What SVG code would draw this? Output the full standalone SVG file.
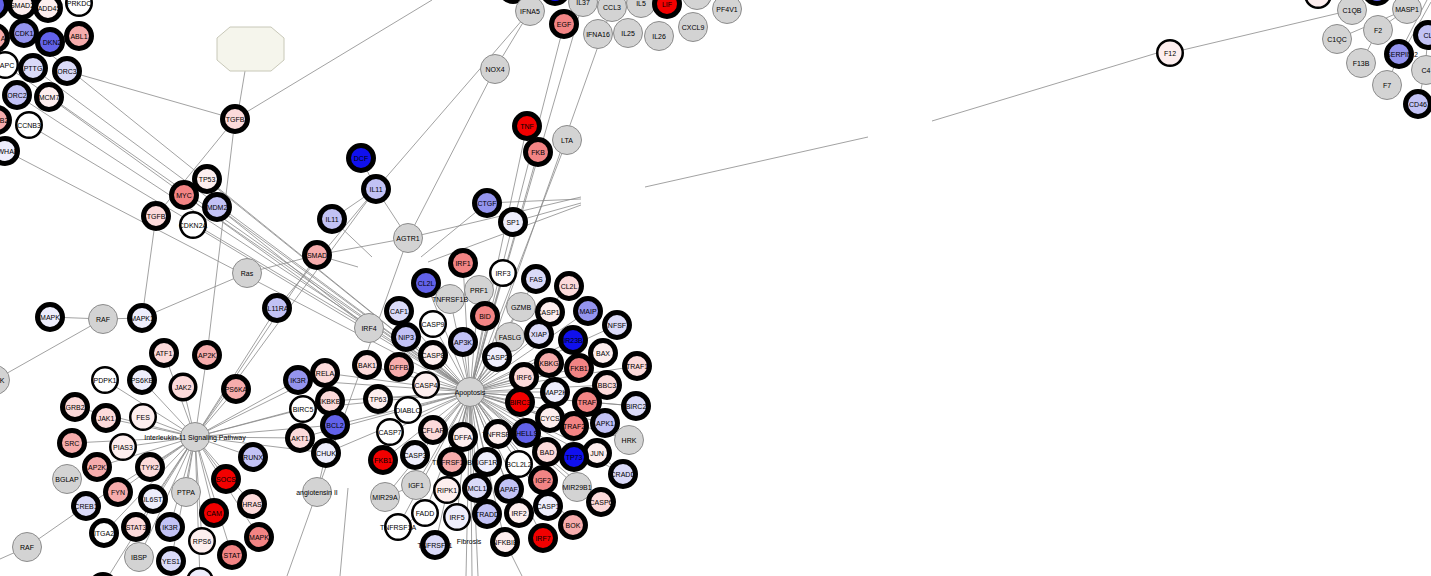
<svg xmlns="http://www.w3.org/2000/svg" width="1431" height="576" viewBox="0 0 1431 576">
<style>
.e{stroke:#8a8a8a;stroke-width:0.8;fill:none}
.g{fill:#d3d3d3;stroke:#8c8c8c;stroke-width:1}
.k{stroke:#000;stroke-width:5}
.m{stroke:#000;stroke-width:2.5}
.c0{fill:#ffffff}.b1{fill:#eeeefc}.b2{fill:#dadaf8}.b3{fill:#c2c2f5}.b4{fill:#9494ee}.b5{fill:#6262ea}.b6{fill:#1010ee}
.r1{fill:#fdeeee}.r2{fill:#fcdada}.r3{fill:#f6acac}.r4{fill:#f28484}.r5{fill:#f20000}
text{font-family:"Liberation Sans",Arial,sans-serif;font-size:7px;fill:#000;text-anchor:middle}
.oct{fill:#f5f5ec;stroke:#c8c8b8;stroke-width:1}
</style>
<rect width="1431" height="576" fill="#ffffff"/>
<g id="connectors">
<line class="e" x1="67" y1="71" x2="235" y2="119"/>
<line class="e" x1="5" y1="65" x2="470" y2="392"/>
<line class="e" x1="17" y1="95" x2="470" y2="392"/>
<line class="e" x1="49" y1="97" x2="369" y2="328"/>
<line class="e" x1="33" y1="68" x2="470" y2="392"/>
<line class="e" x1="29" y1="125" x2="369" y2="328"/>
<line class="e" x1="24" y1="33" x2="470" y2="392"/>
<line class="e" x1="6" y1="151" x2="470" y2="392"/>
<line class="e" x1="207" y1="179" x2="470" y2="392"/>
<line class="e" x1="217" y1="207" x2="369" y2="328"/>
<line class="e" x1="184" y1="195" x2="470" y2="392"/>
<line class="e" x1="193" y1="225" x2="470" y2="392"/>
<line class="e" x1="217" y1="207" x2="470" y2="392"/>
<line class="e" x1="245" y1="71" x2="237" y2="119"/>
<line class="e" x1="235" y1="119" x2="432" y2="0"/>
<line class="e" x1="235" y1="119" x2="156" y2="216"/>
<line class="e" x1="235" y1="119" x2="207" y2="355"/>
<line class="e" x1="156" y1="216" x2="142" y2="318"/>
<line class="e" x1="361" y1="158" x2="376" y2="189"/>
<line class="e" x1="376" y1="189" x2="332" y2="219"/>
<line class="e" x1="376" y1="189" x2="408" y2="238"/>
<line class="e" x1="376" y1="189" x2="530" y2="11"/>
<line class="e" x1="376" y1="189" x2="277" y2="308"/>
<line class="e" x1="376" y1="189" x2="195" y2="437"/>
<line class="e" x1="332" y1="219" x2="372" y2="257"/>
<line class="e" x1="317" y1="255" x2="358" y2="267"/>
<line class="e" x1="317" y1="255" x2="408" y2="238"/>
<line class="e" x1="317" y1="255" x2="247" y2="273"/>
<line class="e" x1="317" y1="255" x2="195" y2="437"/>
<line class="e" x1="247" y1="273" x2="142" y2="318"/>
<line class="e" x1="277" y1="308" x2="195" y2="437"/>
<line class="e" x1="495" y1="69" x2="408" y2="238"/>
<line class="e" x1="530" y1="11" x2="495" y2="69"/>
<line class="e" x1="408" y1="238" x2="317" y2="492"/>
<line class="e" x1="408" y1="238" x2="581" y2="197"/>
<line class="e" x1="421" y1="257" x2="487" y2="203"/>
<line class="e" x1="428" y1="262" x2="581" y2="205"/>
<line class="e" x1="487" y1="203" x2="581" y2="199"/>
<line class="e" x1="513" y1="222" x2="581" y2="203"/>
<line class="e" x1="564" y1="24" x2="470" y2="392"/>
<line class="e" x1="583" y1="2" x2="470" y2="392"/>
<line class="e" x1="612" y1="7" x2="475" y2="392"/>
<line class="e" x1="527" y1="126" x2="470" y2="392"/>
<line class="e" x1="538" y1="152" x2="470" y2="392"/>
<line class="e" x1="567" y1="140" x2="470" y2="392"/>
<line class="e" x1="645" y1="187" x2="868" y2="137"/>
<line class="e" x1="932" y1="121" x2="1157" y2="53"/>
<line class="e" x1="1170" y1="53" x2="1352" y2="10"/>
<line class="e" x1="1337" y1="39" x2="1407" y2="9"/>
<line class="e" x1="1378" y1="30" x2="1407" y2="9"/>
<line class="e" x1="1361" y1="63" x2="1378" y2="30"/>
<line class="e" x1="1387" y1="85" x2="1399" y2="54"/>
<line class="e" x1="1399" y1="54" x2="1427" y2="0"/>
<line class="e" x1="1402" y1="54" x2="1431" y2="2"/>
<line class="e" x1="1428" y1="35" x2="1425" y2="70"/>
<line class="e" x1="1425" y1="70" x2="1418" y2="104"/>
<line class="e" x1="50" y1="317" x2="103" y2="319"/>
<line class="e" x1="103" y1="319" x2="142" y2="318"/>
<line class="e" x1="-5" y1="380" x2="103" y2="319"/>
<line class="e" x1="27" y1="547" x2="86" y2="506"/>
<line class="e" x1="27" y1="547" x2="0" y2="559"/>
<line class="e" x1="317" y1="492" x2="287" y2="576"/>
<line class="e" x1="348" y1="488" x2="340" y2="576"/>
<line class="e" x1="326" y1="453" x2="317" y2="492"/>
<line class="e" x1="470" y1="392" x2="472" y2="576"/>
<line class="e" x1="470" y1="392" x2="478" y2="576"/>
<line class="e" x1="470" y1="392" x2="466" y2="576"/>
<line class="e" x1="505" y1="542" x2="522" y2="576"/>
<line class="e" x1="597" y1="453" x2="623" y2="474"/>
<line class="e" x1="577" y1="487" x2="601" y2="502"/>
<line class="e" x1="416" y1="485" x2="385" y2="497"/>
<line class="e" x1="425" y1="513" x2="398" y2="527"/>
<line class="e" x1="416" y1="485" x2="425" y2="513"/>
<line class="e" x1="587" y1="402" x2="636" y2="406"/>
<line class="e" x1="605" y1="423" x2="629" y2="440"/>
<!-- hub spokes -->
<line class="e" x1="195" y1="437" x2="164" y2="353"/>
<line class="e" x1="195" y1="437" x2="183" y2="387"/>
<line class="e" x1="195" y1="437" x2="207" y2="355"/>
<line class="e" x1="195" y1="437" x2="236" y2="389"/>
<line class="e" x1="195" y1="437" x2="298" y2="380"/>
<line class="e" x1="195" y1="437" x2="325" y2="373"/>
<line class="e" x1="195" y1="437" x2="330" y2="401"/>
<line class="e" x1="195" y1="437" x2="303" y2="409"/>
<line class="e" x1="195" y1="437" x2="335" y2="425"/>
<line class="e" x1="195" y1="437" x2="300" y2="438"/>
<line class="e" x1="195" y1="437" x2="326" y2="453"/>
<line class="e" x1="195" y1="437" x2="253" y2="457"/>
<line class="e" x1="195" y1="437" x2="226" y2="479"/>
<line class="e" x1="195" y1="437" x2="252" y2="504"/>
<line class="e" x1="195" y1="437" x2="214" y2="513"/>
<line class="e" x1="195" y1="437" x2="259" y2="537"/>
<line class="e" x1="195" y1="437" x2="232" y2="555"/>
<line class="e" x1="195" y1="437" x2="202" y2="541"/>
<line class="e" x1="195" y1="437" x2="171" y2="561"/>
<line class="e" x1="195" y1="437" x2="170" y2="527"/>
<line class="e" x1="195" y1="437" x2="186" y2="492"/>
<line class="e" x1="195" y1="437" x2="139" y2="557"/>
<line class="e" x1="195" y1="437" x2="104" y2="533"/>
<line class="e" x1="195" y1="437" x2="136" y2="527"/>
<line class="e" x1="195" y1="437" x2="153" y2="499"/>
<line class="e" x1="195" y1="437" x2="118" y2="492"/>
<line class="e" x1="195" y1="437" x2="150" y2="467"/>
<line class="e" x1="195" y1="437" x2="97" y2="467"/>
<line class="e" x1="195" y1="437" x2="72" y2="443"/>
<line class="e" x1="195" y1="437" x2="123" y2="447"/>
<line class="e" x1="195" y1="437" x2="106" y2="418"/>
<line class="e" x1="195" y1="437" x2="143" y2="417"/>
<line class="e" x1="195" y1="437" x2="75" y2="407"/>
<line class="e" x1="195" y1="437" x2="142" y2="380"/>
<line class="e" x1="195" y1="437" x2="105" y2="380"/>
<line class="e" x1="195" y1="437" x2="86" y2="506"/>
<line class="e" x1="195" y1="437" x2="200" y2="580"/>
<line class="e" x1="195" y1="437" x2="103" y2="585"/>
<!-- to apoptosis from left -->
<line class="e" x1="298" y1="380" x2="470" y2="392"/>
<line class="e" x1="325" y1="373" x2="470" y2="392"/>
<line class="e" x1="330" y1="401" x2="470" y2="392"/>
<line class="e" x1="335" y1="425" x2="470" y2="392"/>
<line class="e" x1="300" y1="438" x2="470" y2="392"/>
<line class="e" x1="303" y1="409" x2="470" y2="392"/>
<line class="e" x1="326" y1="453" x2="470" y2="392"/>
<!-- apoptosis spokes -->
<line class="e" x1="470" y1="392" x2="463" y2="263"/>
<line class="e" x1="470" y1="392" x2="503" y2="273"/>
<line class="e" x1="470" y1="392" x2="426" y2="283"/>
<line class="e" x1="470" y1="392" x2="479" y2="290"/>
<line class="e" x1="470" y1="392" x2="450" y2="299"/>
<line class="e" x1="470" y1="392" x2="485" y2="316"/>
<line class="e" x1="470" y1="392" x2="521" y2="307"/>
<line class="e" x1="470" y1="392" x2="399" y2="311"/>
<line class="e" x1="470" y1="392" x2="369" y2="328"/>
<line class="e" x1="470" y1="392" x2="433" y2="324"/>
<line class="e" x1="470" y1="392" x2="406" y2="337"/>
<line class="e" x1="470" y1="392" x2="463" y2="342"/>
<line class="e" x1="470" y1="392" x2="510" y2="337"/>
<line class="e" x1="470" y1="392" x2="497" y2="357"/>
<line class="e" x1="470" y1="392" x2="433" y2="355"/>
<line class="e" x1="470" y1="392" x2="367" y2="365"/>
<line class="e" x1="470" y1="392" x2="399" y2="367"/>
<line class="e" x1="470" y1="392" x2="426" y2="385"/>
<line class="e" x1="470" y1="392" x2="536" y2="279"/>
<line class="e" x1="470" y1="392" x2="569" y2="286"/>
<line class="e" x1="470" y1="392" x2="550" y2="312"/>
<line class="e" x1="470" y1="392" x2="588" y2="311"/>
<line class="e" x1="470" y1="392" x2="617" y2="325"/>
<line class="e" x1="470" y1="392" x2="539" y2="334"/>
<line class="e" x1="470" y1="392" x2="573" y2="340"/>
<line class="e" x1="470" y1="392" x2="603" y2="353"/>
<line class="e" x1="470" y1="392" x2="549" y2="363"/>
<line class="e" x1="470" y1="392" x2="579" y2="368"/>
<line class="e" x1="470" y1="392" x2="637" y2="366"/>
<line class="e" x1="470" y1="392" x2="524" y2="377"/>
<line class="e" x1="470" y1="392" x2="607" y2="385"/>
<line class="e" x1="470" y1="392" x2="555" y2="392"/>
<line class="e" x1="470" y1="392" x2="520" y2="402"/>
<line class="e" x1="470" y1="392" x2="587" y2="402"/>
<line class="e" x1="470" y1="392" x2="636" y2="406"/>
<line class="e" x1="470" y1="392" x2="550" y2="418"/>
<line class="e" x1="470" y1="392" x2="574" y2="426"/>
<line class="e" x1="470" y1="392" x2="605" y2="423"/>
<line class="e" x1="470" y1="392" x2="498" y2="434"/>
<line class="e" x1="470" y1="392" x2="526" y2="433"/>
<line class="e" x1="470" y1="392" x2="629" y2="440"/>
<line class="e" x1="470" y1="392" x2="547" y2="452"/>
<line class="e" x1="470" y1="392" x2="574" y2="457"/>
<line class="e" x1="470" y1="392" x2="597" y2="453"/>
<line class="e" x1="470" y1="392" x2="487" y2="462"/>
<line class="e" x1="470" y1="392" x2="519" y2="464"/>
<line class="e" x1="470" y1="392" x2="623" y2="474"/>
<line class="e" x1="470" y1="392" x2="543" y2="480"/>
<line class="e" x1="470" y1="392" x2="577" y2="487"/>
<line class="e" x1="470" y1="392" x2="509" y2="489"/>
<line class="e" x1="470" y1="392" x2="601" y2="502"/>
<line class="e" x1="470" y1="392" x2="548" y2="506"/>
<line class="e" x1="470" y1="392" x2="519" y2="513"/>
<line class="e" x1="470" y1="392" x2="487" y2="514"/>
<line class="e" x1="470" y1="392" x2="573" y2="525"/>
<line class="e" x1="470" y1="392" x2="505" y2="542"/>
<line class="e" x1="470" y1="392" x2="543" y2="538"/>
<line class="e" x1="470" y1="392" x2="378" y2="399"/>
<line class="e" x1="470" y1="392" x2="408" y2="410"/>
<line class="e" x1="470" y1="392" x2="433" y2="430"/>
<line class="e" x1="470" y1="392" x2="390" y2="432"/>
<line class="e" x1="470" y1="392" x2="463" y2="437"/>
<line class="e" x1="470" y1="392" x2="383" y2="460"/>
<line class="e" x1="470" y1="392" x2="415" y2="455"/>
<line class="e" x1="470" y1="392" x2="452" y2="462"/>
<line class="e" x1="470" y1="392" x2="416" y2="485"/>
<line class="e" x1="470" y1="392" x2="447" y2="490"/>
<line class="e" x1="470" y1="392" x2="477" y2="488"/>
<line class="e" x1="470" y1="392" x2="425" y2="513"/>
<line class="e" x1="470" y1="392" x2="457" y2="517"/>
<line class="e" x1="470" y1="392" x2="398" y2="527"/>
<line class="e" x1="470" y1="392" x2="435" y2="545"/>
<line class="e" x1="470" y1="392" x2="385" y2="497"/>
</g>
<g id="n-octagon"><polygon class="oct" points="230,27 271,27 284,38 284,60 271,71 230,71 217,60 217,38"/></g>
<g id="n-x0"><circle class="k b5" cx="-6" cy="5" r="12.5"/></g>
<g id="n-prkdc"><circle class="m c0" cx="79" cy="3" r="12.75"/><text x="79" y="5.5">PRKDC</text></g>
<g id="n-gadd45"><circle class="k r1" cx="48" cy="8" r="12.5"/><text x="49" y="10.5">ADD45</text></g>
<g id="n-smad2"><circle class="k r1" cx="22" cy="5" r="12.5"/><text x="22" y="7.5">SMAD2</text></g>
<g id="n-a"><circle class="k r3" cx="-5" cy="38" r="12.5"/><text x="3" y="40.5">A</text></g>
<g id="n-cdkn2"><circle class="k b5" cx="50" cy="42" r="12.5"/><text x="52" y="44.5">DKN2</text></g>
<g id="n-cdk1"><circle class="k b4" cx="24" cy="33" r="12.5"/><text x="24" y="35.5">CDK1</text></g>
<g id="n-abl1"><circle class="k r3" cx="79" cy="36" r="12.5"/><text x="79" y="38.5">ABL1</text></g>
<g id="n-apc"><circle class="m c0" cx="5" cy="65" r="12.75"/><text x="7" y="67.5">APC</text></g>
<g id="n-pttg"><circle class="k b2" cx="33" cy="68" r="12.5"/><text x="33" y="70.5">PTTG</text></g>
<g id="n-orc3"><circle class="k b2" cx="67" cy="71" r="12.5"/><text x="67" y="73.5">ORC3</text></g>
<g id="n-orc2"><circle class="k b3" cx="17" cy="95" r="12.5"/><text x="17" y="97.5">ORC2</text></g>
<g id="n-mcm7"><circle class="k r1" cx="49" cy="97" r="12.5"/><text x="49" y="99.5">MCM7</text></g>
<g id="n-b2"><circle class="k r3" cx="-3" cy="120" r="12.5"/><text x="4" y="122.5">B2</text></g>
<g id="n-ccnb3"><circle class="m c0" cx="29" cy="125" r="12.75"/><text x="29" y="127.5">CCNB3</text></g>
<g id="n-ywhab"><circle class="k b1" cx="5" cy="151" r="12.5"/><text x="8" y="153.5">WHAB</text></g>
<g id="n-tgfb1"><circle class="k r2" cx="235" cy="119" r="12.5"/><text x="235" y="121.5">TGFB</text></g>
<g id="n-tp53"><circle class="k r1" cx="207" cy="179" r="12.5"/><text x="207" y="181.5">TP53</text></g>
<g id="n-myc"><circle class="k r4" cx="184" cy="195" r="12.5"/><text x="184" y="197.5">MYC</text></g>
<g id="n-mdm2"><circle class="k b3" cx="217" cy="207" r="12.5"/><text x="217" y="209.5">MDM2</text></g>
<g id="n-tgfb2"><circle class="k r2" cx="156" cy="216" r="12.5"/><text x="156" y="218.5">TGFB</text></g>
<g id="n-cdkn2a"><circle class="m c0" cx="193" cy="225" r="12.75"/><text x="193" y="227.5">CDKN2A</text></g>
<g id="n-dcf"><circle class="k b6" cx="361" cy="158" r="12.5"/><text x="361" y="160.5">DCF</text></g>
<g id="n-il11a"><circle class="k b3" cx="376" cy="189" r="12.5"/><text x="376" y="191.5">IL11</text></g>
<g id="n-il11b"><circle class="k b3" cx="332" cy="219" r="12.5"/><text x="332" y="221.5">IL11</text></g>
<g id="n-agtr1"><circle class="g" cx="408" cy="238" r="14.5"/><text x="408" y="240.5">AGTR1</text></g>
<g id="n-smad"><circle class="k r3" cx="317" cy="255" r="12.5"/><text x="317" y="257.5">SMAD</text></g>
<g id="n-ras"><circle class="g" cx="247" cy="273" r="14.5"/><text x="247" y="275.5">Ras</text></g>
<g id="n-il11ra"><circle class="k b3" cx="277" cy="308" r="12.5"/><text x="277" y="310.5">IL11RA</text></g>
<g id="n-x1"><circle class="k b5" cx="513" cy="-11" r="12.5"/></g>
<g id="n-x2"><circle class="k b6" cx="555" cy="-9" r="12.5"/></g>
<g id="n-x3"><circle class="g" cx="697" cy="-5" r="14.5"/></g>
<g id="n-ifna5"><circle class="g" cx="530" cy="11" r="14.5"/><text x="530" y="13.5">IFNA5</text></g>
<g id="n-il37"><circle class="g" cx="583" cy="2" r="14.5"/><text x="583" y="4.5">IL37</text></g>
<g id="n-ccl3"><circle class="g" cx="612" cy="7" r="14.5"/><text x="612" y="9.5">CCL3</text></g>
<g id="n-il5"><circle class="g" cx="641" cy="3" r="14.5"/><text x="641" y="5.5">IL5</text></g>
<g id="n-lif"><circle class="k r5" cx="667" cy="4" r="12.5"/><text x="667" y="6.5">LIF</text></g>
<g id="n-pf4v1"><circle class="g" cx="727" cy="9" r="14.5"/><text x="727" y="11.5">PF4V1</text></g>
<g id="n-egf"><circle class="k r4" cx="564" cy="24" r="12.5"/><text x="564" y="26.5">EGF</text></g>
<g id="n-ifna16"><circle class="g" cx="598" cy="34" r="14.5"/><text x="598" y="36.5">IFNA16</text></g>
<g id="n-il25"><circle class="g" cx="628" cy="33" r="14.5"/><text x="628" y="35.5">IL25</text></g>
<g id="n-il26"><circle class="g" cx="659" cy="36" r="14.5"/><text x="659" y="38.5">IL26</text></g>
<g id="n-cxcl9"><circle class="g" cx="693" cy="27" r="14.5"/><text x="693" y="29.5">CXCL9</text></g>
<g id="n-nox4"><circle class="g" cx="495" cy="69" r="14.5"/><text x="495" y="71.5">NOX4</text></g>
<g id="n-tnf"><circle class="k r5" cx="527" cy="126" r="12.5"/><text x="527" y="128.5">TNF</text></g>
<g id="n-lta"><circle class="g" cx="567" cy="140" r="14.5"/><text x="567" y="142.5">LTA</text></g>
<g id="n-nfkb"><circle class="k r4" cx="538" cy="152" r="12.5"/><text x="538" y="154.5">FKB</text></g>
<g id="n-ctgf"><circle class="k b4" cx="487" cy="203" r="12.5"/><text x="487" y="205.5">CTGF</text></g>
<g id="n-sp1"><circle class="k b1" cx="513" cy="222" r="12.5"/><text x="513" y="224.5">SP1</text></g>
<g id="n-f12"><circle class="m r1" cx="1170" cy="53" r="12.75"/><text x="1170" y="55.5">F12</text></g>
<g id="n-x4"><circle class="m r1" cx="1318" cy="-5" r="12.75"/></g>
<g id="n-x5"><circle class="k b5" cx="1377" cy="-9" r="12.5"/></g>
<g id="n-c1qb"><circle class="g" cx="1352" cy="10" r="14.5"/><text x="1352" y="12.5">C1QB</text></g>
<g id="n-masp1"><circle class="g" cx="1407" cy="9" r="14.5"/><text x="1407" y="11.5">MASP1</text></g>
<g id="n-f2"><circle class="g" cx="1378" cy="30" r="14.5"/><text x="1378" y="32.5">F2</text></g>
<g id="n-c1qc"><circle class="g" cx="1337" cy="39" r="14.5"/><text x="1337" y="41.5">C1QC</text></g>
<g id="n-f13b"><circle class="g" cx="1361" cy="63" r="14.5"/><text x="1361" y="65.5">F13B</text></g>
<g id="n-f7"><circle class="g" cx="1387" cy="85" r="14.5"/><text x="1387" y="87.5">F7</text></g>
<g id="n-c4"><circle class="g" cx="1426" cy="70" r="14.5"/><text x="1426" y="72.5">C4</text></g>
<g id="n-serping"><circle class="k b4" cx="1399" cy="54" r="12.5"/><text x="1402" y="56.5">SERPIN 2</text></g>
<g id="n-cl"><circle class="k b3" cx="1428" cy="35" r="12.5"/><text x="1428" y="37.5">CL</text></g>
<g id="n-cd46"><circle class="k b3" cx="1418" cy="104" r="12.5"/><text x="1418" y="106.5">CD46</text></g>
<g id="n-irf4"><circle class="g" cx="369" cy="328" r="14.5"/><text x="369" y="330.5">IRF4</text></g>
<g id="n-irf1"><circle class="k r4" cx="463" cy="263" r="12.5"/><text x="463" y="265.5">IRF1</text></g>
<g id="n-irf3"><circle class="m c0" cx="503" cy="273" r="12.75"/><text x="503" y="275.5">IRF3</text></g>
<g id="n-cl2lb"><circle class="k b5" cx="426" cy="283" r="12.5"/><text x="426" y="285.5">CL2L</text></g>
<g id="n-prf1"><circle class="g" cx="479" cy="290" r="14.5"/><text x="479" y="292.5">PRF1</text></g>
<g id="n-tnfrsf1b"><circle class="g" cx="450" cy="299" r="14.5"/><text x="450" y="301.5">TNFRSF1B</text></g>
<g id="n-gzmb"><circle class="g" cx="521" cy="307" r="14.5"/><text x="521" y="309.5">GZMB</text></g>
<g id="n-bid"><circle class="k r4" cx="485" cy="316" r="12.5"/><text x="485" y="318.5">BID</text></g>
<g id="n-caf1"><circle class="k b2" cx="399" cy="311" r="12.5"/><text x="399" y="313.5">CAF1</text></g>
<g id="n-casp9"><circle class="m c0" cx="433" cy="324" r="12.75"/><text x="433" y="326.5">CASP9</text></g>
<g id="n-nip3"><circle class="k b3" cx="406" cy="337" r="12.5"/><text x="406" y="339.5">NIP3</text></g>
<g id="n-ap3k"><circle class="k b3" cx="463" cy="342" r="12.5"/><text x="463" y="344.5">AP3K</text></g>
<g id="n-fas"><circle class="k b2" cx="536" cy="279" r="12.5"/><text x="536" y="281.5">FAS</text></g>
<g id="n-cl2lp"><circle class="k r2" cx="569" cy="286" r="12.5"/><text x="569" y="288.5">CL2L</text></g>
<g id="n-casp10"><circle class="k r1" cx="550" cy="312" r="12.5"/><text x="550" y="314.5">CASP10</text></g>
<g id="n-maip"><circle class="k b4" cx="588" cy="311" r="12.5"/><text x="588" y="313.5">MAIP</text></g>
<g id="n-tnfsf"><circle class="k b2" cx="617" cy="325" r="12.5"/><text x="617" y="327.5">NFSF</text></g>
<g id="n-faslg"><circle class="g" cx="510" cy="337" r="14.5"/><text x="510" y="339.5">FASLG</text></g>
<g id="n-xiap"><circle class="k b2" cx="539" cy="334" r="12.5"/><text x="539" y="336.5">XIAP</text></g>
<g id="n-ir23b"><circle class="k b6" cx="573" cy="340" r="12.5"/><text x="573" y="342.5">IR23B</text></g>
<g id="n-casp2"><circle class="k b1" cx="497" cy="357" r="12.5"/><text x="497" y="359.5">CASP2</text></g>
<g id="n-casp8"><circle class="k r1" cx="433" cy="355" r="12.5"/><text x="433" y="357.5">CASP8</text></g>
<g id="n-bak1"><circle class="k r2" cx="367" cy="365" r="12.5"/><text x="367" y="367.5">BAK1</text></g>
<g id="n-dffb"><circle class="k r3" cx="399" cy="367" r="12.5"/><text x="399" y="369.5">DFFB</text></g>
<g id="n-bax"><circle class="k r1" cx="603" cy="353" r="12.5"/><text x="603" y="355.5">BAX</text></g>
<g id="n-ikbkg"><circle class="k r3" cx="549" cy="363" r="12.5"/><text x="549" y="365.5">KBKG</text></g>
<g id="n-fkb1"><circle class="k r4" cx="579" cy="368" r="12.5"/><text x="579" y="370.5">FKB1</text></g>
<g id="n-traf1"><circle class="k r2" cx="637" cy="366" r="12.5"/><text x="637" y="368.5">TRAF1</text></g>
<g id="n-casp4"><circle class="m r1" cx="426" cy="385" r="12.75"/><text x="426" y="387.5">CASP4</text></g>
<g id="n-apoptosis"><circle class="g" cx="470" cy="392" r="14.5"/><text x="470" y="394.5">Apoptosis</text></g>
<g id="n-irf6"><circle class="k r2" cx="524" cy="377" r="12.5"/><text x="524" y="379.5">IRF6</text></g>
<g id="n-bbc3"><circle class="k r2" cx="607" cy="385" r="12.5"/><text x="607" y="387.5">BBC3</text></g>
<g id="n-map2k"><circle class="k b1" cx="555" cy="392" r="12.5"/><text x="555" y="394.5">MAP2K</text></g>
<g id="n-birc3"><circle class="k r5" cx="520" cy="402" r="12.5"/><text x="520" y="404.5">BIRC3</text></g>
<g id="n-traf"><circle class="k r4" cx="587" cy="402" r="12.5"/><text x="587" y="404.5">TRAF</text></g>
<g id="n-birc2"><circle class="k b2" cx="636" cy="406" r="12.5"/><text x="636" y="408.5">BIRC2</text></g>
<g id="n-tp63"><circle class="k r1" cx="378" cy="399" r="12.5"/><text x="378" y="401.5">TP63</text></g>
<g id="n-diablo"><circle class="m c0" cx="408" cy="410" r="12.75"/><text x="408" y="412.5">DIABLO</text></g>
<g id="n-cycs"><circle class="k r1" cx="550" cy="418" r="12.5"/><text x="550" y="420.5">CYCS</text></g>
<g id="n-apk1"><circle class="k b3" cx="605" cy="423" r="12.5"/><text x="605" y="425.5">APK1</text></g>
<g id="n-traf2"><circle class="k r4" cx="574" cy="426" r="12.5"/><text x="574" y="428.5">TRAF2</text></g>
<g id="n-hrk"><circle class="g" cx="629" cy="440" r="14.5"/><text x="629" y="442.5">HRK</text></g>
<g id="n-casp7"><circle class="m c0" cx="390" cy="432" r="12.75"/><text x="390" y="434.5">CASP7</text></g>
<g id="n-cflar"><circle class="k r2" cx="433" cy="430" r="12.5"/><text x="433" y="432.5">CFLAR</text></g>
<g id="n-dffa"><circle class="k r1" cx="463" cy="437" r="12.5"/><text x="463" y="439.5">DFFA</text></g>
<g id="n-tnfrsf2"><circle class="k r1" cx="498" cy="434" r="12.5"/><text x="498" y="436.5">TNFRSF2</text></g>
<g id="n-hells"><circle class="k b5" cx="526" cy="433" r="12.5"/><text x="527" y="435.5">HELLS</text></g>
<g id="n-jun"><circle class="k r1" cx="597" cy="453" r="12.5"/><text x="597" y="455.5">JUN</text></g>
<g id="n-bad"><circle class="k r2" cx="547" cy="452" r="12.5"/><text x="547" y="454.5">BAD</text></g>
<g id="n-tp73"><circle class="k b6" cx="574" cy="457" r="12.5"/><text x="574" y="459.5">TP73</text></g>
<g id="n-fkb1r"><circle class="k r5" cx="383" cy="460" r="12.5"/><text x="383" y="462.5">FKB1</text></g>
<g id="n-tnfrsf10b"><circle class="k r3" cx="452" cy="462" r="12.5"/><text x="452" y="464.5">TNFRSF10B</text></g>
<g id="n-casp3"><circle class="k b1" cx="415" cy="455" r="12.5"/><text x="415" y="457.5">CASP3</text></g>
<g id="n-igf1r"><circle class="k b1" cx="487" cy="462" r="12.5"/><text x="487" y="464.5">IGF1R</text></g>
<g id="n-bcl2l2"><circle class="m c0" cx="519" cy="464" r="12.75"/><text x="519" y="466.5">BCL2L2</text></g>
<g id="n-cradd"><circle class="k b2" cx="623" cy="474" r="12.5"/><text x="623" y="476.5">CRADD</text></g>
<g id="n-igf2"><circle class="k r4" cx="543" cy="480" r="12.5"/><text x="543" y="482.5">IGF2</text></g>
<g id="n-mir29b1"><circle class="g" cx="577" cy="487" r="14.5"/><text x="577" y="489.5">MIR29B1</text></g>
<g id="n-igf1"><circle class="g" cx="416" cy="485" r="14.5"/><text x="416" y="487.5">IGF1</text></g>
<g id="n-mir29a"><circle class="g" cx="385" cy="497" r="14.5"/><text x="385" y="499.5">MIR29A</text></g>
<g id="n-ripk1"><circle class="m r1" cx="447" cy="490" r="12.75"/><text x="447" y="492.5">RIPK1</text></g>
<g id="n-mcl1"><circle class="k b2" cx="477" cy="488" r="12.5"/><text x="477" y="490.5">MCL1</text></g>
<g id="n-apaf"><circle class="k b3" cx="509" cy="489" r="12.5"/><text x="509" y="491.5">APAF</text></g>
<g id="n-casp6"><circle class="k r2" cx="601" cy="502" r="12.5"/><text x="601" y="504.5">CASP6</text></g>
<g id="n-casp1"><circle class="k b1" cx="548" cy="506" r="12.5"/><text x="548" y="508.5">CASP1</text></g>
<g id="n-fadd"><circle class="m c0" cx="425" cy="513" r="12.75"/><text x="425" y="515.5">FADD</text></g>
<g id="n-irf5"><circle class="m b1" cx="457" cy="517" r="12.75"/><text x="457" y="519.5">IRF5</text></g>
<g id="n-tradd"><circle class="k b3" cx="487" cy="514" r="12.5"/><text x="487" y="516.5">TRADD</text></g>
<g id="n-irf2"><circle class="k r1" cx="519" cy="513" r="12.5"/><text x="519" y="515.5">IRF2</text></g>
<g id="n-bok"><circle class="k r3" cx="573" cy="525" r="12.5"/><text x="573" y="527.5">BOK</text></g>
<g id="n-tnfrsf1a"><circle class="m c0" cx="398" cy="527" r="12.75"/><text x="398" y="529.5">TNFRSF1A</text></g>
<g id="n-tnfrsf11"><circle class="k b2" cx="435" cy="545" r="12.5"/><text x="435" y="547.5">TNFRSF11</text></g>
<g id="n-nfkbie"><circle class="k r1" cx="505" cy="542" r="12.5"/><text x="505" y="544.5">NFKBIE</text></g>
<g id="n-irf7"><circle class="k r5" cx="543" cy="538" r="12.5"/><text x="543" y="540.5">IRF7</text></g>
<g id="n-fibrosis"><text x="469" y="544">Fibrosis</text></g>
<g id="n-mapkl"><circle class="k b1" cx="50" cy="317" r="12.5"/><text x="50" y="319.5">MAPK</text></g>
<g id="n-raf"><circle class="g" cx="103" cy="319" r="14.5"/><text x="103" y="321.5">RAF</text></g>
<g id="n-mapk1"><circle class="k b1" cx="142" cy="318" r="12.5"/><text x="142" y="320.5">MAPK1</text></g>
<g id="n-k"><circle class="g" cx="-5" cy="380" r="14.5"/><text x="2" y="382.5">K</text></g>
<g id="n-atf1"><circle class="k r2" cx="164" cy="353" r="12.5"/><text x="164" y="355.5">ATF1</text></g>
<g id="n-ap2ku"><circle class="k r3" cx="207" cy="355" r="12.5"/><text x="207" y="357.5">AP2K</text></g>
<g id="n-pdpk1"><circle class="m c0" cx="105" cy="380" r="12.75"/><text x="105" y="382.5">PDPK1</text></g>
<g id="n-ps6kb"><circle class="k b1" cx="142" cy="380" r="12.5"/><text x="142" y="382.5">PS6KB</text></g>
<g id="n-jak2"><circle class="m r2" cx="183" cy="387" r="12.75" style="stroke-width:3.5"/><text x="183" y="389.5">JAK2</text></g>
<g id="n-ps6ka"><circle class="k r3" cx="236" cy="389" r="12.5"/><text x="236" y="391.5">PS6KA</text></g>
<g id="n-grb2"><circle class="k r2" cx="75" cy="407" r="12.5"/><text x="75" y="409.5">GRB2</text></g>
<g id="n-jak1"><circle class="k r2" cx="106" cy="418" r="12.5"/><text x="106" y="420.5">JAK1</text></g>
<g id="n-fes"><circle class="m r1" cx="143" cy="417" r="12.75"/><text x="143" y="419.5">FES</text></g>
<g id="n-src"><circle class="k r3" cx="72" cy="443" r="12.5"/><text x="72" y="445.5">SRC</text></g>
<g id="n-pias3"><circle class="m r1" cx="123" cy="447" r="12.75"/><text x="123" y="449.5">PIAS3</text></g>
<g id="n-hub"><circle class="g" cx="195" cy="437" r="14.5"/><text x="195" y="439.5">Interleukin-11 Signaling Pathway</text></g>
<g id="n-ap2kl"><circle class="k r3" cx="97" cy="467" r="12.5"/><text x="97" y="469.5">AP2K</text></g>
<g id="n-tyk2"><circle class="k r2" cx="150" cy="467" r="12.5"/><text x="150" y="469.5">TYK2</text></g>
<g id="n-bglap"><circle class="g" cx="67" cy="479" r="14.5"/><text x="67" y="481.5">BGLAP</text></g>
<g id="n-fyn"><circle class="k r3" cx="118" cy="492" r="12.5"/><text x="118" y="494.5">FYN</text></g>
<g id="n-il6st"><circle class="k b1" cx="153" cy="499" r="12.5"/><text x="153" y="501.5">IL6ST</text></g>
<g id="n-ptpa"><circle class="g" cx="186" cy="492" r="14.5"/><text x="186" y="494.5">PTPA</text></g>
<g id="n-creb1"><circle class="k b2" cx="86" cy="506" r="12.5"/><text x="86" y="508.5">CREB1</text></g>
<g id="n-itga2"><circle class="k c0" cx="104" cy="533" r="12.5"/><text x="104" y="535.5">ITGA2</text></g>
<g id="n-stat3"><circle class="k r2" cx="136" cy="527" r="12.5"/><text x="136" y="529.5">STAT3</text></g>
<g id="n-ik3rb"><circle class="k b3" cx="170" cy="527" r="12.5"/><text x="170" y="529.5">IK3R</text></g>
<g id="n-raf2"><circle class="g" cx="27" cy="547" r="14.5"/><text x="27" y="549.5">RAF</text></g>
<g id="n-ibsp"><circle class="g" cx="139" cy="557" r="14.5"/><text x="139" y="559.5">IBSP</text></g>
<g id="n-yes1"><circle class="k b2" cx="171" cy="561" r="12.5"/><text x="171" y="563.5">YES1</text></g>
<g id="n-x6"><circle class="k r3" cx="103" cy="587" r="12.5"/></g>
<g id="n-x7"><circle class="m b1" cx="200" cy="581" r="12.75"/></g>
<g id="n-ik3ra"><circle class="k b4" cx="298" cy="380" r="12.5"/><text x="298" y="382.5">IK3R</text></g>
<g id="n-rela"><circle class="k r2" cx="325" cy="373" r="12.5"/><text x="325" y="375.5">RELA</text></g>
<g id="n-birc5"><circle class="m c0" cx="303" cy="409" r="12.75"/><text x="303" y="411.5">BIRC5</text></g>
<g id="n-ikbkb"><circle class="k r2" cx="330" cy="401" r="12.5"/><text x="330" y="403.5">IKBKB</text></g>
<g id="n-bcl2"><circle class="k b5" cx="335" cy="425" r="12.5"/><text x="335" y="427.5">BCL2</text></g>
<g id="n-akt1"><circle class="k r2" cx="300" cy="438" r="12.5"/><text x="300" y="440.5">AKT1</text></g>
<g id="n-chuk"><circle class="k b1" cx="326" cy="453" r="12.5"/><text x="326" y="455.5">CHUK</text></g>
<g id="n-runx2"><circle class="k b3" cx="253" cy="457" r="12.5"/><text x="253" y="459.5">RUNX</text></g>
<g id="n-socs3"><circle class="k r5" cx="226" cy="479" r="12.5"/><text x="226" y="481.5">SOCS</text></g>
<g id="n-angiotensin"><circle class="g" cx="317" cy="492" r="14.5"/><text x="317" y="494.5">angiotensin II</text></g>
<g id="n-hras"><circle class="k r2" cx="252" cy="504" r="12.5"/><text x="252" y="506.5">HRAS</text></g>
<g id="n-cam"><circle class="k r5" cx="214" cy="513" r="12.5"/><text x="214" y="515.5">CAM</text></g>
<g id="n-mapkl2"><circle class="k r4" cx="259" cy="537" r="12.5"/><text x="259" y="539.5">MAPK</text></g>
<g id="n-rps6"><circle class="m r1" cx="202" cy="541" r="12.75"/><text x="202" y="543.5">RPS6</text></g>
<g id="n-statp"><circle class="k r4" cx="232" cy="555" r="12.5"/><text x="232" y="557.5">STAT</text></g>
</svg>
